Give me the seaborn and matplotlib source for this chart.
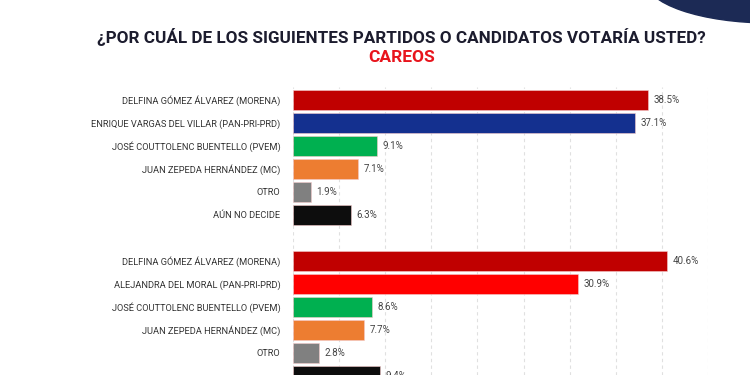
import pandas as pd
import seaborn as sns
import matplotlib.pyplot as plt
from matplotlib.patches import Ellipse

# ---- data ----
group1_labels = ["DELFINA GÓMEZ ÁLVAREZ (MORENA)", "ENRIQUE VARGAS DEL VILLAR (PAN-PRI-PRD)",
                 "JOSÉ COUTTOLENC BUENTELLO (PVEM)", "JUAN ZEPEDA HERNÁNDEZ (MC)",
                 "OTRO", "AÚN NO DECIDE"]
group1_values = [38.5, 37.1, 9.1, 7.1, 1.9, 6.3]
group1_colors = ["#c00000", "#14308f", "#00b050", "#ed7d31", "#808080", "#0d0d0d"]

group2_labels = ["DELFINA GÓMEZ ÁLVAREZ (MORENA)", "ALEJANDRA DEL MORAL (PAN-PRI-PRD)",
                 "JOSÉ COUTTOLENC BUENTELLO (PVEM)", "JUAN ZEPEDA HERNÁNDEZ (MC)",
                 "OTRO", "AÚN NO DECIDE"]
group2_values = [40.6, 30.9, 8.6, 7.7, 2.8, 9.4]
group2_colors = ["#c00000", "#ff0000", "#00b050", "#ed7d31", "#808080", "#0d0d0d"]

title = "¿POR CUÁL DE LOS SIGUIENTES PARTIDOS O CANDIDATOS VOTARÍA USTED?"
subtitle = "CAREOS"

sns.set_style("white")
plt.rcParams['font.family'] = ['Roboto', 'DejaVu Sans']

# one row per bar, unique keys so the repeated names don't merge
keys1 = [f"a{i}" for i in range(len(group1_labels))]
keys2 = [f"b{i}" for i in range(len(group2_labels))]
df = pd.DataFrame({
    "key": keys1 + keys2,
    "label": group1_labels + group2_labels,
    "value": group1_values + group2_values,
})
palette = dict(zip(keys1 + keys2, group1_colors + group2_colors))
order = keys1 + ["gap"] + keys2
tick_labels = group1_labels + [""] + group2_labels

fig = plt.figure(figsize=(7.5, 3.75), dpi=100)
ax = fig.add_axes([293/750, 0, (708-293)/750, (375-87)/375])

sns.barplot(data=df, x="value", y="key", hue="key", palette=palette, order=order,
            legend=False, width=0.87, saturation=1, edgecolor="#f4c9c9", linewidth=0.4, ax=ax)

for _, row in df.iterrows():
    pos = order.index(row["key"])
    ax.text(row["value"] + 0.6, pos, f"{row['value']}%", va="center", ha="left",
            fontsize=7, color="#444444")

ax.set_yticks(range(len(order)))
ax.set_yticklabels(tick_labels, fontsize=6.7, color="#333333")
ax.tick_params(axis="y", length=0, pad=9)
ax.set_xlim(0, 45)
ax.set_ylim(11.97, -0.57)
ax.set_xticks(range(0, 46, 5))
ax.set_xticklabels([])
ax.tick_params(axis="x", length=0)
ax.xaxis.grid(True, linestyle=(0, (3, 3)), color="#e0e0e0", linewidth=0.8)
ax.set_axisbelow(True)
ax.set_xlabel("")
ax.set_ylabel("")
sns.despine(ax=ax, left=True, bottom=True)

fig.text(401/750, 1 - 37/375, title, ha="center", va="center", fontsize=12.3,
         fontweight="bold", color="#1c1c2e")
fig.text(402/750, 1 - 57/375, subtitle, ha="center", va="center", fontsize=12.5,
         fontweight="bold", color="#e8141c")

# decorative navy shape top right
fig.patches.append(Ellipse((770/750, 1 + 20/375), 250/750, 86/375,
                           transform=fig.transFigure, color="#1c2a55", zorder=0))

fig.savefig("out.png", dpi=100, facecolor="white")
